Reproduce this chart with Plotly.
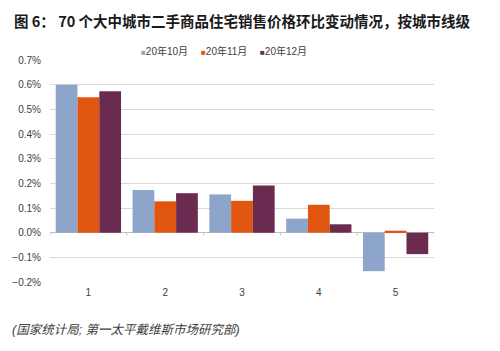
import plotly.graph_objects as go

categories = ["1", "2", "3", "4", "5"]
oct20 = [0.600, 0.173, 0.155, 0.057, -0.156]
nov20 = [0.549, 0.127, 0.129, 0.113, 0.008]
dec20 = [0.573, 0.160, 0.191, 0.034, -0.087]
series_names = ["20年10月", "20年11月", "20年12月"]
colors = ["#8EA5CB", "#E0550F", "#6B2A4F"]

FONT = "Liberation Sans, Arial, Noto Sans CJK SC, sans-serif"

fig = go.Figure()
for name, vals, c in zip(series_names, [oct20, nov20, dec20], colors):
    fig.add_trace(go.Bar(x=categories, y=vals, name=name, marker_color=c,
                         marker_line_width=0, showlegend=False))

L, R, T, B = 50, 66, 60, 69
plot_h = 351 - T - B
plot_w = 500 - L - R

def px_x(x):
    return (x - L) / plot_w

def px_y(y):
    return (351 - B - y) / plot_h

annotations = [
    dict(text="<b>图 6： 70 个大中城市二手商品住宅销售价格环比变动情况，按城市线级</b>",
         xref="paper", yref="paper", x=px_x(12), y=px_y(20),
         xanchor="left", yanchor="middle", showarrow=False,
         font=dict(size=14.5, color="#1a1a1a",
                   family="Noto Sans CJK SC, Liberation Sans, sans-serif")),
    dict(text="<i>(国家统计局; 第一太平戴维斯市场研究部)</i>",
         xref="paper", yref="paper", x=px_x(10), y=px_y(330),
         xanchor="left", yanchor="middle", showarrow=False,
         font=dict(size=12.5, color="#404040")),
]
legend_x = [139, 199, 258]
for name, c, lx in zip(series_names, colors, legend_x):
    annotations.append(dict(
        text=f"<span style='color:{c};font-size:8px'>■</span>{name}",
        xref="paper", yref="paper", x=px_x(lx), y=px_y(51),
        xanchor="left", yanchor="middle", showarrow=False,
        font=dict(size=10, color="#404040")))

# small tick marks on the zero line at category boundaries
shapes = []
for i in range(len(categories) + 1):
    shapes.append(dict(type="line", xref="x", yref="y",
                       x0=i - 0.5, x1=i - 0.5, y0=0, y1=-0.012,
                       line=dict(color="#C8C8C8", width=1)))

fig.update_layout(
    width=500, height=351,
    margin=dict(l=L, r=R, t=T, b=B),
    plot_bgcolor="white", paper_bgcolor="white",
    barmode="group", bargap=0.15, bargroupgap=0,
    font=dict(family=FONT, size=10, color="#404040"),
    showlegend=False,
    yaxis=dict(range=[-0.2, 0.7], dtick=0.1, tickformat=".1f", ticksuffix="%",
               showgrid=True, gridcolor="#D9D9D9", gridwidth=1,
               zeroline=True, zerolinecolor="#BFBFBF", zerolinewidth=1,
               ticks="", ticklabelstandoff=8,
               tickfont=dict(size=10, color="#404040")),
    xaxis=dict(showgrid=False, showline=False, ticks="", ticklabelstandoff=3,
               range=[-0.5, 4.5],
               tickfont=dict(size=10, color="#404040")),
    annotations=annotations,
    shapes=shapes,
)

fig.write_html("out.html")
